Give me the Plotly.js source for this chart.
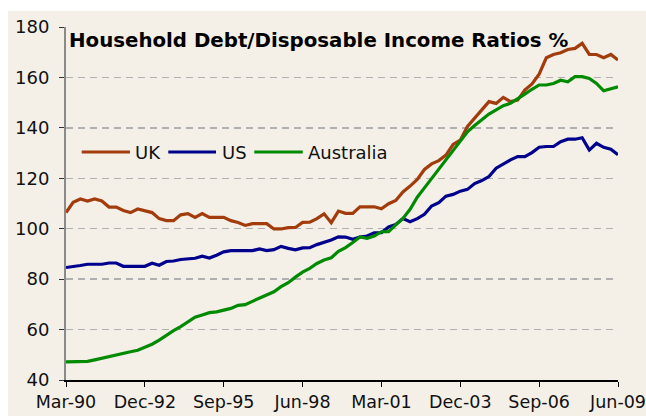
<!DOCTYPE html>
<html><head><meta charset="utf-8">
<script src="https://cdn.plot.ly/plotly-3.0.1.min.js"></script>
<style>
html,body{margin:0;padding:0;background:#ffffff;width:646px;height:416px;overflow:hidden}
#chart{position:absolute;left:8px;top:11px;width:638px;height:405px}
</style>
</head><body><div id="chart"></div>
<script>
// Quarterly observations, Mar-90 .. Jun-09
const monthNames = ['Mar','Jun','Sep','Dec'];
const quarters = [];
for (let y = 1990; y <= 2009; y++) {
  for (let q = 0; q < 4; q++) {
    if (y === 2009 && q > 1) break;
    quarters.push(monthNames[q] + '-' + String(y % 100).padStart(2, '0'));
  }
}
const tickLabels = ['Mar-90','Dec-92','Sep-95','Jun-98','Mar-01','Dec-03','Sep-06','Jun-09'];

const uk = [106.4,110.5,111.8,111,111.8,111,108.6,108.6,107.2,106.4,
            107.8,107.2,106.4,104,103.2,103.2,105.5,106,104.5,106,
            104.5,104.5,104.5,103.2,102.5,101.3,102,102,102,99.9,
            99.9,100.4,100.5,102.5,102.6,104,105.9,102.4,107,106.1,
            106.1,108.7,108.7,108.7,107.9,109.9,111.2,114.6,116.9,119.5,
            123.5,125.7,127,129.2,133.4,135.1,140.6,144,147.3,150.4,
            149.7,152.1,150.4,151,155,157.4,161.3,167.8,169.1,169.8,
            171.1,171.5,173.5,169.1,169.1,167.8,169.1,166.9];
const us = [84.6,84.9,85.4,85.9,85.9,85.9,86.4,86.4,85.1,85.1,
            85.1,85.1,86.3,85.5,87,87.2,87.8,88,88.3,89.1,
            88.4,89.5,90.8,91.3,91.3,91.3,91.3,92,91.3,91.7,
            93,92.2,91.6,92.4,92.5,93.7,94.5,95.5,96.8,96.7,
            95.8,96.7,97.1,98.4,98.4,100.7,101.7,104,102.8,104,
            105.7,109,110.3,112.9,113.6,114.9,115.6,117.9,119.1,120.7,
            124,125.7,127.3,128.6,128.6,130.2,132.3,132.6,132.6,134.5,
            135.5,135.5,136.1,131.2,133.9,132.3,131.5,129.3];
const australia = [47.2,47.2,47.2,47.4,48,48.7,49.2,49.9,50.5,51.2,
            51.8,52.9,54.2,55.8,57.8,59.6,61.2,63,64.9,65.8,
            66.7,67,67.6,68.4,69.6,69.9,71.2,72.5,73.6,75,
            77,78.6,80.8,82.8,84.3,86.2,87.6,88.5,91,92.5,
            94.5,96.7,96.2,97.1,98.8,98.8,101.5,104.1,107.7,112.5,
            116.2,119.9,123.5,127,130.7,134.4,138.4,140.9,143.1,145.5,
            147.1,148.8,149.7,151.7,153.4,155.3,157,157,157.6,158.9,
            158.3,160.3,160.3,159.6,157.6,154.7,155.4,156.3];

const seriesNames = ['UK','US','Australia'];
const seriesColors = ['#a33c0c','#00008c','#008a00'];
const seriesData = [uk, us, australia];

const FONT = 'DejaVu Sans, Verdana, sans-serif';

// page pixel -> paper fraction (plot area spans page x 66..618, y 26.7..380.5)
function xp(px){ return (px - 66) / 552; }
function yp(py){ return (380.5 - py) / 353.8; }

const traces = seriesData.map((d, i) => ({
  type: 'scatter', mode: 'lines', x: quarters, y: d, name: seriesNames[i],
  line: {color: seriesColors[i], width: 3.2}, hoverinfo: 'skip', showlegend: false
}));

const legendLineX = [[81.7,130],[168.3,216],[254.3,302.7]];
const legendTextX = [133,219.5,306];
const shapes = seriesNames.map((n, i) => ({
  type: 'line', xref: 'paper', yref: 'paper',
  x0: xp(legendLineX[i][0]), x1: xp(legendLineX[i][1]), y0: yp(152), y1: yp(152),
  line: {color: seriesColors[i], width: 3}
}));
const annotations = seriesNames.map((n, i) => ({
  xref: 'paper', yref: 'paper', x: xp(legendTextX[i]), y: yp(152.5),
  xanchor: 'left', yanchor: 'middle', showarrow: false, text: n,
  font: {family: FONT, size: 18, color: '#111'}
}));
annotations.push({
  xref: 'paper', yref: 'paper', x: xp(67), y: yp(40.5), xanchor: 'left', yanchor: 'middle',
  showarrow: false, text: '<b>Household Debt/Disposable Income Ratios %</b>',
  font: {family: FONT, size: 19.8, color: '#000'}
});

const layout = {
  width: 638, height: 405,
  margin: {l: 58, r: 28, t: 15.7, b: 35.5, pad: 0},
  paper_bgcolor: '#f4f0e8', plot_bgcolor: 'rgba(0,0,0,0)',
  showlegend: false,
  font: {family: FONT, size: 18, color: '#111'},
  xaxis: {
    type: 'category', range: [0, quarters.length - 1], autorange: false,
    tickmode: 'array', tickvals: tickLabels, ticktext: tickLabels,
    ticks: 'outside', ticklen: 5, tickwidth: 1, tickcolor: '#000',
    showline: true, linecolor: '#000', linewidth: 1.5,
    showgrid: false, zeroline: false, ticklabelstandoff: 0,
    tickfont: {family: FONT, size: 17.5, color: '#111'}
  },
  xaxis2: {
    overlaying: 'x', anchor: 'y', type: 'linear', range: [0, quarters.length - 1],
    tickmode: 'array', tickvals: tickLabels.map(t => quarters.indexOf(t)),
    ticks: 'inside', ticklen: 5, tickwidth: 1, tickcolor: '#000',
    showticklabels: false, showline: false, showgrid: false, zeroline: false
  },
  yaxis: {
    range: [40, 180], autorange: false, tick0: 40, dtick: 20,
    ticks: 'outside', ticklen: 5, tickwidth: 1, tickcolor: '#333',
    showline: true, linecolor: '#8a8a8a', linewidth: 2,
    showgrid: true, gridcolor: '#b0b0b0', gridwidth: 1.5, griddash: '7px,5px',
    zeroline: false, ticklabelstandoff: 6,
    tickfont: {family: FONT, size: 18, color: '#111'}
  },
  shapes: shapes,
  annotations: annotations
};

Plotly.newPlot('chart', traces, layout, {staticPlot: true, displayModeBar: false});
</script></body></html>
